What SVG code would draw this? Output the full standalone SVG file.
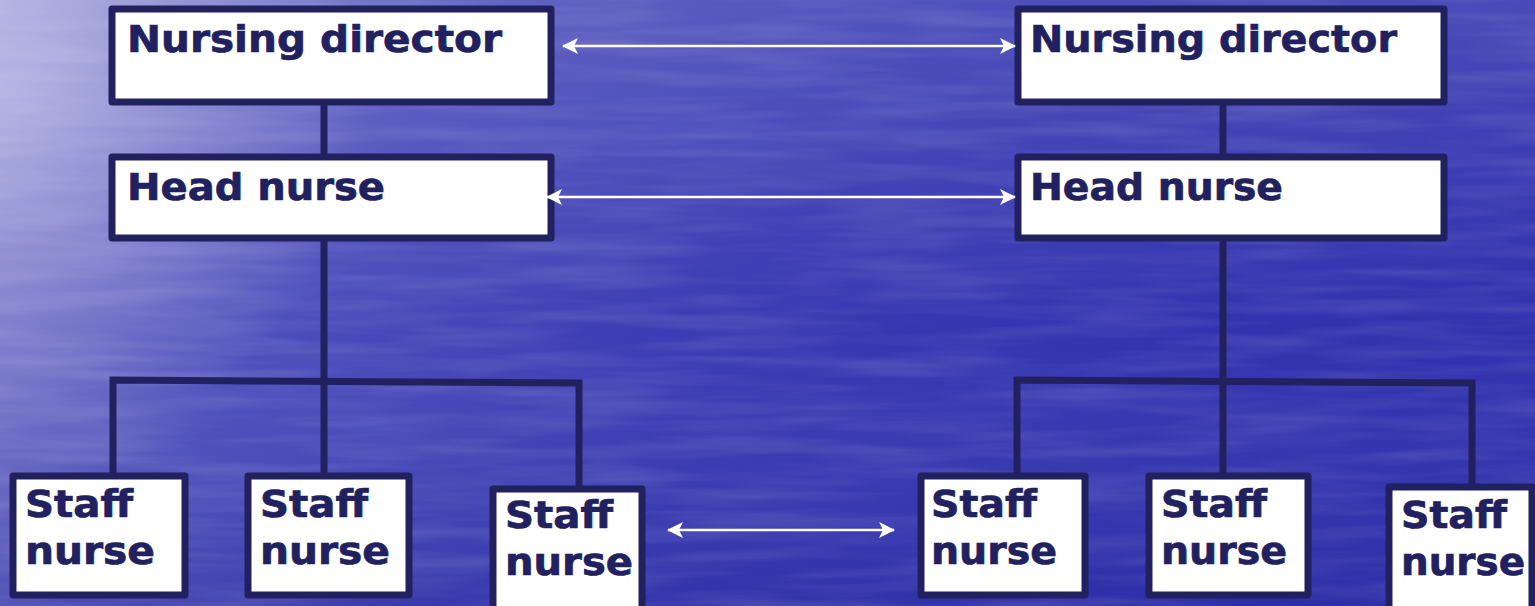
<svg xmlns="http://www.w3.org/2000/svg" width="1535" height="606" viewBox="0 0 1535 606">
  <defs>
    <linearGradient id="bg" x1="0" y1="0" x2="1" y2="0.25">
      <stop offset="0" stop-color="#9c9cd8"/>
      <stop offset="0.1" stop-color="#7777c8"/>
      <stop offset="0.3" stop-color="#4c4cbb"/>
      <stop offset="0.6" stop-color="#3838b2"/>
      <stop offset="1" stop-color="#3030ae"/>
    </linearGradient>
    <linearGradient id="shade" x1="0" y1="0" x2="0" y2="1">
      <stop offset="0" stop-color="#ffffff" stop-opacity="0.12"/>
      <stop offset="0.55" stop-color="#ffffff" stop-opacity="0"/>
      <stop offset="1" stop-color="#101070" stop-opacity="0.12"/>
    </linearGradient>
    <radialGradient id="glow" cx="0" cy="0.15" r="0.6" gradientTransform="scale(0.4 1)">
      <stop offset="0" stop-color="#c4c4ec" stop-opacity="0.6"/>
      <stop offset="0.5" stop-color="#c4c4ec" stop-opacity="0.25"/>
      <stop offset="1" stop-color="#c4c4ec" stop-opacity="0"/>
    </radialGradient>
    <filter id="water" x="0" y="0" width="100%" height="100%">
      <feTurbulence type="fractalNoise" baseFrequency="0.006 0.07" numOctaves="3" seed="4" result="n"/>
      <feColorMatrix in="n" type="matrix" values="0 0 0 0 1  0 0 0 0 1  0 0 0 0 1  0 0 0 0.22 -0.08"/>
    </filter>
    <marker id="head" viewBox="0 0 16 16" refX="15" refY="8" markerWidth="16" markerHeight="16" markerUnits="userSpaceOnUse" orient="auto-start-reverse">
      <path d="M0,0 L16,8 L0,16 L4,8 Z" fill="#ffffff"/>
    </marker>
    <style>
      .box { fill: #ffffff; stroke: #21215f; stroke-width: 7; stroke-linejoin: round; }
      .wire { fill: none; stroke: #21215f; stroke-width: 7; }
      .link { fill: none; stroke: #ffffff; stroke-width: 2.5; marker-start: url(#head); marker-end: url(#head); }
      .lbl { font-family: "DejaVu Sans", Verdana, sans-serif; font-weight: bold; fill: #21215f; stroke: #21215f; stroke-width: 0.7; }
      .big { font-size: 38px; }
      .small { font-size: 37px; }
    </style>
  </defs>

  <!-- background -->
  <rect x="0" y="0" width="1535" height="606" fill="url(#bg)"/>
  <rect x="0" y="0" width="1535" height="606" fill="url(#shade)"/>
  <rect x="0" y="0" width="1535" height="606" fill="url(#glow)"/>
  <rect x="0" y="0" width="1535" height="606" filter="url(#water)"/>

  <!-- reporting lines (under the boxes) -->
  <g id="connectors">
    <path class="wire" d="M324,105 V154"/>
    <path class="wire" d="M324,241 V473"/>
    <path class="wire" d="M113,473 V380 L579,383 V486"/>
    <path class="wire" d="M1223,105 V154"/>
    <path class="wire" d="M1223,241 V473"/>
    <path class="wire" d="M1017,473 V380 L1472,383 V484"/>
  </g>

  <!-- left side -->
  <g id="nd-left">
    <rect class="box" x="112" y="9" width="439" height="93"/>
    <text class="lbl big" x="127" y="52" textLength="375" lengthAdjust="spacingAndGlyphs">Nursing director</text>
  </g>
  <g id="hn-left">
    <rect class="box" x="112" y="157" width="439" height="81"/>
    <text class="lbl big" x="127" y="200" textLength="258" lengthAdjust="spacingAndGlyphs">Head nurse</text>
  </g>
  <g id="sn-left-1">
    <rect class="box" x="13" y="476" width="172" height="119"/>
    <text class="lbl small" x="25" y="517" textLength="108" lengthAdjust="spacingAndGlyphs">Staff</text>
    <text class="lbl small" x="25" y="564" textLength="130" lengthAdjust="spacingAndGlyphs">nurse</text>
  </g>
  <g id="sn-left-2">
    <rect class="box" x="248" y="476" width="161" height="119"/>
    <text class="lbl small" x="260" y="517" textLength="108" lengthAdjust="spacingAndGlyphs">Staff</text>
    <text class="lbl small" x="260" y="564" textLength="130" lengthAdjust="spacingAndGlyphs">nurse</text>
  </g>
  <g id="sn-left-3">
    <rect class="box" x="493" y="489" width="149" height="125"/>
    <text class="lbl small" x="505" y="528" textLength="108" lengthAdjust="spacingAndGlyphs">Staff</text>
    <text class="lbl small" x="505" y="575" textLength="128" lengthAdjust="spacingAndGlyphs">nurse</text>
  </g>

  <!-- right side -->
  <g id="nd-right">
    <rect class="box" x="1018" y="9" width="426" height="93"/>
    <text class="lbl big" x="1030" y="52" textLength="367" lengthAdjust="spacingAndGlyphs">Nursing director</text>
  </g>
  <g id="hn-right">
    <rect class="box" x="1018" y="157" width="426" height="81"/>
    <text class="lbl big" x="1030" y="200" textLength="253" lengthAdjust="spacingAndGlyphs">Head nurse</text>
  </g>
  <g id="sn-right-1">
    <rect class="box" x="921" y="476" width="164" height="119"/>
    <text class="lbl small" x="931" y="517" textLength="106" lengthAdjust="spacingAndGlyphs">Staff</text>
    <text class="lbl small" x="931" y="564" textLength="126" lengthAdjust="spacingAndGlyphs">nurse</text>
  </g>
  <g id="sn-right-2">
    <rect class="box" x="1149" y="476" width="159" height="119"/>
    <text class="lbl small" x="1161" y="517" textLength="106" lengthAdjust="spacingAndGlyphs">Staff</text>
    <text class="lbl small" x="1161" y="564" textLength="126" lengthAdjust="spacingAndGlyphs">nurse</text>
  </g>
  <g id="sn-right-3">
    <rect class="box" x="1389" y="487" width="143" height="127"/>
    <text class="lbl small" x="1401" y="528" textLength="106" lengthAdjust="spacingAndGlyphs">Staff</text>
    <text class="lbl small" x="1401" y="575" textLength="124" lengthAdjust="spacingAndGlyphs">nurse</text>
  </g>

  <!-- peer links, drawn over the box borders -->
  <g id="peer-links">
    <path class="link" d="M563,46 H1015"/>
    <path class="link" d="M547,197 H1015"/>
    <path class="link" d="M668,530 H894"/>
  </g>
</svg>
